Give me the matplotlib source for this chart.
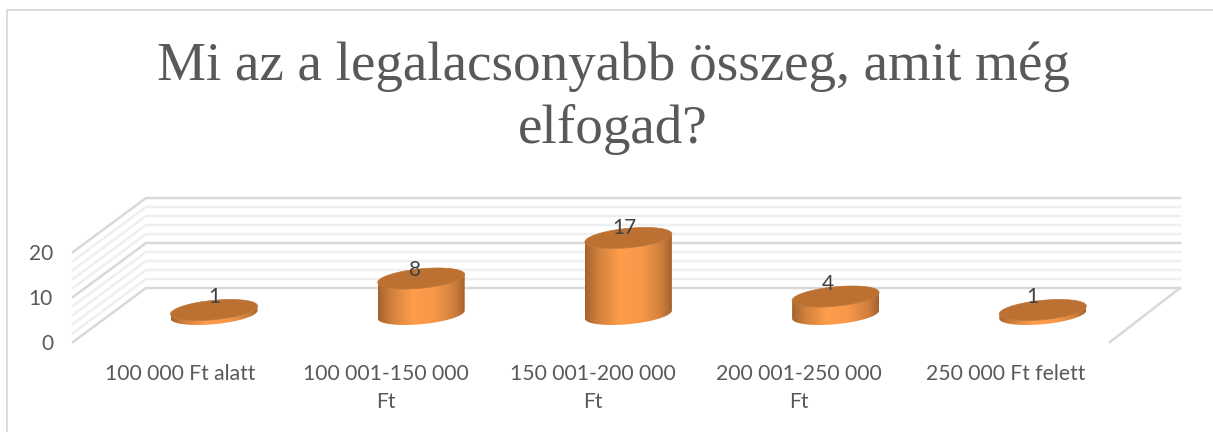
"""Mi az a legalacsonyabb összeg - 3D cylinder chart"""
import numpy as np
import matplotlib
matplotlib.use('Agg')
import matplotlib.pyplot as plt
from matplotlib.colors import LinearSegmentedColormap
from matplotlib.patches import Polygon

categories = ['100 000 Ft alatt', '100 001-150 000\nFt', '150 001-200 000\nFt',
              '200 001-250 000\nFt', '250 000 Ft felett']
values = [1, 8, 17, 4, 1]
y_ticks = [0, 10, 20]
minor_ticks = [2, 4, 6, 8, 12, 14, 16, 18]

title = 'Mi az a legalacsonyabb összeg, amit még\nelfogad?'

# projection of the fake 3D box, in pixels of the 1213x432 picture
PX_PER_UNIT = 4.5
BACK_X0, BACK_X1, BACK_Y0 = 146, 1180, 288
FRONT_X0, FRONT_X1, FRONT_Y0 = 73, 1110, 342
BAR_X0, BAR_DX = 214, 207.2   # centre of first cylinder, spacing
BAR_BASE_Y = 314.5
RX, RY, SHEAR = 43.5, 9.7, 4.0
LABEL_X0, LABEL_DX = 180, 206.3

label_dx = [0, -6, -4, -8, -10]
label_dy = [-13, -8, -10, -13, -13]

fig = plt.figure(figsize=(12.13, 4.32), dpi=100)
ax = fig.add_axes([0, 0, 1, 1])
ax.axis('off')

# outer frame, only left and top are visible
ax.plot([7, 7, 1213], [432, 9.5, 9.5], color='#d9d9d9', lw=1.3, zorder=1)

# gridlines on back and side wall
for v in minor_ticks:
    ax.plot([FRONT_X0, BACK_X0, BACK_X1],
            [FRONT_Y0 - v * PX_PER_UNIT, BACK_Y0 - v * PX_PER_UNIT, BACK_Y0 - v * PX_PER_UNIT],
            color='#efefef', lw=1.8, zorder=2)
for v in y_ticks:
    ax.plot([FRONT_X0, BACK_X0, BACK_X1],
            [FRONT_Y0 - v * PX_PER_UNIT, BACK_Y0 - v * PX_PER_UNIT, BACK_Y0 - v * PX_PER_UNIT],
            color='#d9d9d9', lw=1.8, zorder=3)
    ax.text(53, FRONT_Y0 - v * PX_PER_UNIT + 2, str(v), ha='right', va='center',
            fontsize=15, family='Lato', color='#595959')
ax.plot([BACK_X1, FRONT_X1], [BACK_Y0, FRONT_Y0], color='#d9d9d9', lw=1.8, zorder=3)

# cylinders
body_cmap = LinearSegmentedColormap.from_list(
    'body', [(0, '#a5622c'), (0.15, '#d0803c'), (0.4, '#ff9d4a'),
             (0.65, '#f8984a'), (0.88, '#cf7f3c'), (1, '#a5622c')])
t = np.linspace(0, 2 * np.pi, 200)
for i, v in enumerate(values):
    cx = BAR_X0 + i * BAR_DX
    top = BAR_BASE_Y - v * PX_PER_UNIT

    ex = cx + RX * np.cos(t)
    ey_base = BAR_BASE_Y + RY * np.sin(t) - SHEAR * np.cos(t)
    ey_top = top + RY * np.sin(t) - SHEAR * np.cos(t)

    # side surface with horizontal gradient, clipped to the body outline
    xs = np.r_[ex[:100], ex[:100][::-1]]
    ys = np.r_[ey_base[:100], ey_top[:100][::-1]]
    outline = Polygon(np.c_[xs, ys], closed=True, fc='none', ec='none', zorder=5)
    ax.add_patch(outline)
    im = ax.imshow(np.linspace(0, 1, 256)[None, :], cmap=body_cmap, aspect='auto',
                   extent=[cx - RX, cx + RX, BAR_BASE_Y + RY + SHEAR + 2, top - RY - SHEAR - 2],
                   zorder=5)
    im.set_clip_path(outline)

    ax.fill(ex, ey_top, color='#bc7132', lw=0.5, zorder=6)
    ax.text(cx + label_dx[i], top + label_dy[i], str(v), ha='center', va='center',
            fontsize=15, family='Lato', color='#404040', zorder=7)

    ax.text(LABEL_X0 + i * LABEL_DX, 364.5, categories[i], ha='center', va='top',
            fontsize=15.2, family='Lato', color='#595959', linespacing=1.45)

# imshow resets the limits, so set them last
ax.set_xlim(0, 1213)
ax.set_ylim(432, 0)

ax.text(613, 98, title, ha='center', va='center', fontsize=39.7, family='Liberation Serif',
        color='#595959', linespacing=1.3)

fig.savefig('out.png', dpi=100)
